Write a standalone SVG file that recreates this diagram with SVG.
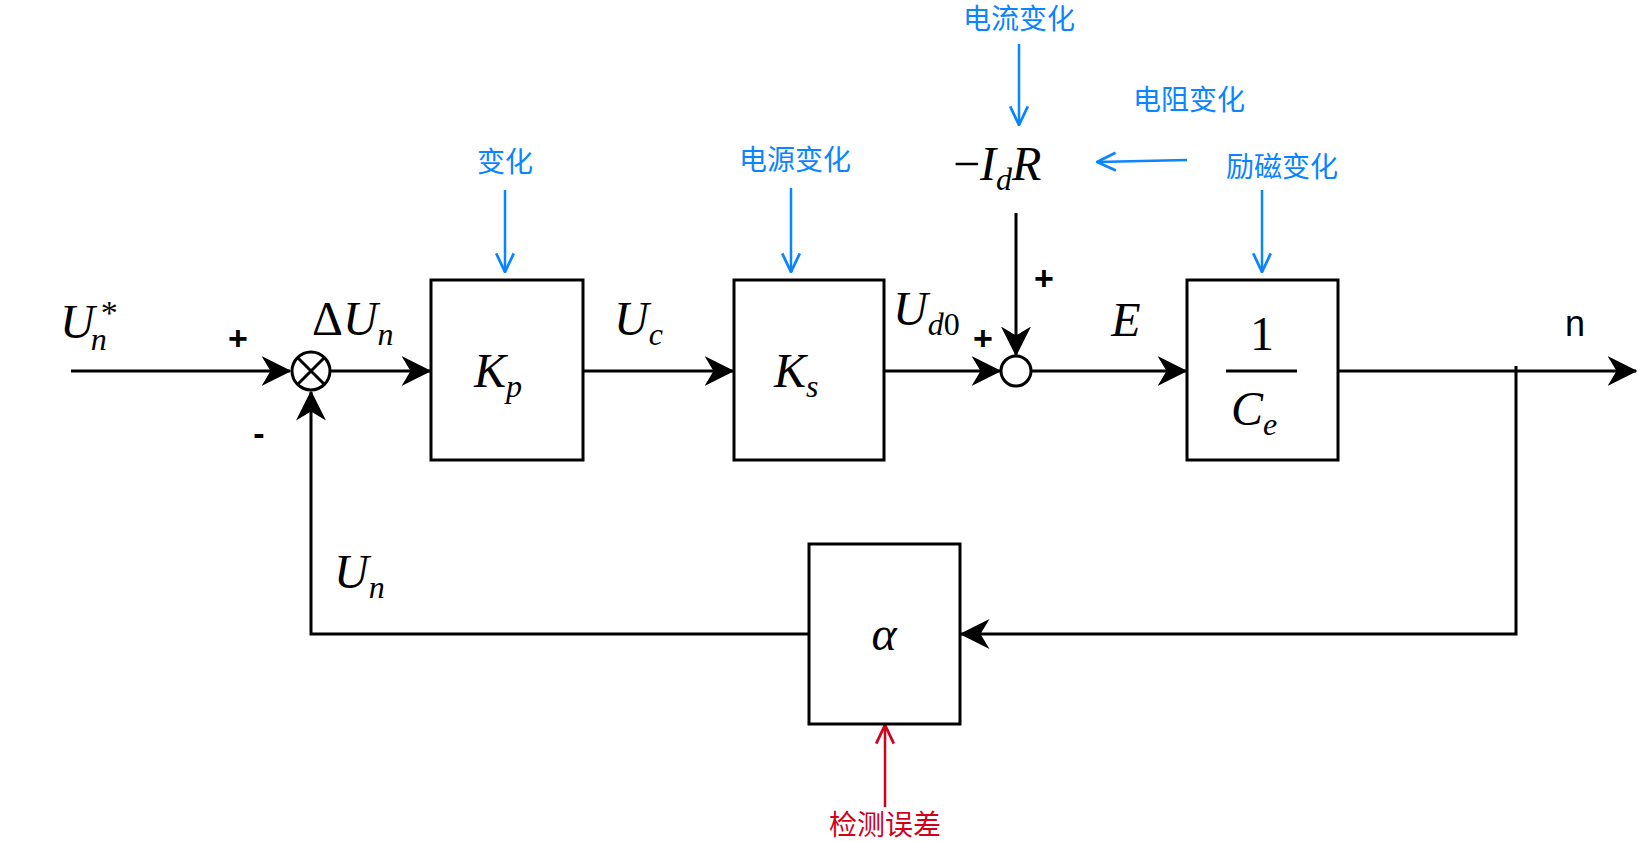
<svg xmlns="http://www.w3.org/2000/svg" width="1645" height="841" viewBox="0 0 1645 841">
<style>
.box{fill:#fff;stroke:#000;stroke-width:3}
.ln{fill:none;stroke:#000;stroke-width:3}
.bl{fill:none;stroke:#0a84ff;stroke-width:2.5}
.rd{fill:none;stroke:#d0021b;stroke-width:2.5}
.m{font-family:"Liberation Serif",serif;font-style:italic;font-size:48px;fill:#000}
.s{font-size:32px;font-style:italic}
.sg{font-family:"Liberation Sans",sans-serif;font-size:34px;font-weight:bold;fill:#000;text-anchor:middle}
.cn{font-family:"Noto Sans CJK SC",sans-serif;font-size:28px;fill:#0a84ff;text-anchor:middle}
</style>
<defs>
<marker id="ab2" viewBox="0 0 20 20" refX="19" refY="10" markerWidth="30" markerHeight="30" markerUnits="userSpaceOnUse" orient="auto"><path d="M0,0 L20,10 L0,20 L6,10 Z" fill="#000"/></marker>
<marker id="bb" viewBox="0 0 20 20" refX="19" refY="10" markerWidth="22" markerHeight="22" markerUnits="userSpaceOnUse" orient="auto"><path d="M2,2 L19,10 L2,18" fill="none" stroke="#0a84ff" stroke-width="2.5"/></marker>
<marker id="rb" viewBox="0 0 20 20" refX="19" refY="10" markerWidth="22" markerHeight="22" markerUnits="userSpaceOnUse" orient="auto"><path d="M2,2 L19,10 L2,18" fill="none" stroke="#d0021b" stroke-width="2.5"/></marker>
</defs>
<rect width="1645" height="841" fill="#fff"/>
<g id="connectors">
<path class="ln" d="M71,371 H290" marker-end="url(#ab2)"/>
<path class="ln" d="M331,371 H430" marker-end="url(#ab2)"/>
<path class="ln" d="M583,371 H733" marker-end="url(#ab2)"/>
<path class="ln" d="M884,371 H1000" marker-end="url(#ab2)"/>
<path class="ln" d="M1031,371 H1186" marker-end="url(#ab2)"/>
<path class="ln" d="M1338,371 H1636" marker-end="url(#ab2)"/>
<path class="ln" d="M1516,366 V634 H961" marker-end="url(#ab2)"/>
<path class="ln" d="M809,634 H311 V392" marker-end="url(#ab2)"/>
<path class="ln" d="M1016,213 V355" stroke-width="2.5" marker-end="url(#ab2)"/>
<path class="bl" d="M505,190 V272" marker-end="url(#bb)"/>
<path class="bl" d="M791,188 V272" marker-end="url(#bb)"/>
<path class="bl" d="M1019,44 V125" marker-end="url(#bb)"/>
<path class="bl" d="M1187,160 L1097,162" marker-end="url(#bb)"/>
<path class="bl" d="M1262,190 V272" marker-end="url(#bb)"/>
<path class="rd" d="M885,807 V725" marker-end="url(#rb)"/>
</g>
<g id="sum1"><circle cx="311" cy="371" r="19" class="box"/><path class="ln" d="M298,358 L324,384 M324,358 L298,384" stroke-width="2.5"/></g>
<g id="sum2"><circle cx="1016" cy="371" r="15" class="box"/></g>
<g id="Kp"><rect x="431" y="280" width="152" height="180" class="box"/><text x="474" y="387" class="m">K<tspan class="s" dy="10">p</tspan></text></g>
<g id="Ks"><rect x="734" y="280" width="150" height="180" class="box"/><text x="774" y="387" class="m">K<tspan class="s" dy="10">s</tspan></text></g>
<g id="Ce"><rect x="1187" y="280" width="151" height="180" class="box"/><text x="1262" y="350" class="m" style="font-style:normal" text-anchor="middle">1</text><path class="ln" d="M1226,371 H1297"/><text x="1231" y="425" class="m">C<tspan class="s" dy="10">e</tspan></text></g>
<g id="alpha"><rect x="809" y="544" width="151" height="180" class="box"/><text x="884" y="650" class="m" text-anchor="middle">α</text></g>
<g id="labels">
<text x="60" y="338" class="m">U<tspan class="s" dx="-4" dy="12">n</tspan><tspan style="font-style:normal;font-size:34px" dx="-6" dy="-26">*</tspan></text>
<text x="238" y="350" class="sg">+</text>
<text x="259" y="445" class="sg">-</text>
<text x="312" y="335" class="m" style="font-style:normal">Δ<tspan style="font-style:italic">U</tspan><tspan class="s" dy="10">n</tspan></text>
<text x="614" y="335" class="m">U<tspan class="s" dy="10">c</tspan></text>
<text x="893" y="325" class="m">U<tspan class="s" dy="10">d</tspan><tspan class="s" style="font-style:normal">0</tspan></text>
<text x="983" y="350" class="sg">+</text>
<text x="1044" y="290" class="sg">+</text>
<text x="1126" y="336" class="m" text-anchor="middle">E</text>
<text x="1575" y="336" class="sg" style="font-weight:normal;font-size:36px">n</text>
<text x="334" y="588" class="m">U<tspan class="s" dy="10">n</tspan></text>
<text x="953" y="180" class="m"><tspan style="font-style:normal">−</tspan>I<tspan class="s" dy="10">d</tspan><tspan dy="-10">R</tspan></text>
</g>
<g id="notes">
<text x="505" y="172" class="cn">变化</text>
<text x="795" y="170" class="cn">电源变化</text>
<text x="1019" y="29" class="cn">电流变化</text>
<text x="1189" y="110" class="cn">电阻变化</text>
<text x="1282" y="177" class="cn">励磁变化</text>
<text x="885" y="835" class="cn" style="fill:#d0021b">检测误差</text>
</g>
</svg>
